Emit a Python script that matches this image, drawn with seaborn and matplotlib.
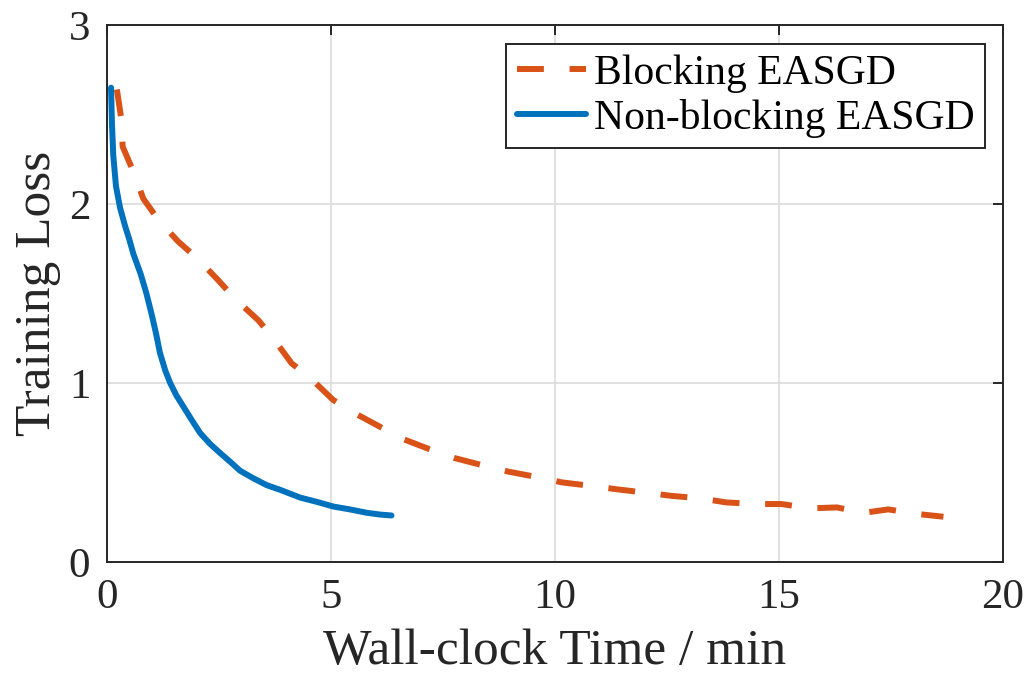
import numpy as np
import pandas as pd
import matplotlib
matplotlib.use("Agg")
import matplotlib.pyplot as plt
import seaborn as sns

## data
blocking_time = [0.22, 0.31, 0.35, 0.59, 0.81, 1.15, 1.59, 2.0, 2.48, 2.86, 3.38, 3.71,
                 4.12, 4.53, 5.05, 5.54, 6.09, 6.62, 7.20, 7.77, 8.39, 8.96, 9.63, 10.15,
                 10.81, 11.39, 12.0, 12.62, 13.24, 13.82, 14.48, 15.05, 15.71, 16.29,
                 16.9, 17.44, 18.1, 18.67]
blocking_loss = [2.64, 2.49, 2.32, 2.18, 2.03, 1.91, 1.79, 1.70, 1.575, 1.47, 1.35, 1.25,
                 1.11, 1.03, 0.905, 0.83, 0.756, 0.686, 0.63, 0.58, 0.54, 0.505, 0.473, 0.445,
                 0.425, 0.406, 0.388, 0.369, 0.356, 0.333, 0.324, 0.324, 0.30, 0.305,
                 0.275, 0.294, 0.268, 0.253]

nonblocking_time = [0.09, 0.11, 0.14, 0.2, 0.29, 0.4, 0.5, 0.59, 0.75, 0.88, 1.0, 1.1,
                    1.18, 1.3, 1.41, 1.55, 1.70, 1.9, 2.08, 2.3, 2.52, 2.75, 2.97, 3.25,
                    3.56, 3.9, 4.31, 4.7, 5.05, 5.4, 5.80, 6.1, 6.35]
nonblocking_loss = [2.65, 2.45, 2.27, 2.1, 1.98, 1.88, 1.80, 1.72, 1.61, 1.50, 1.38, 1.27,
                    1.17, 1.07, 1.0, 0.93, 0.87, 0.79, 0.72, 0.66, 0.61, 0.56, 0.51, 0.47,
                    0.43, 0.40, 0.36, 0.335, 0.31, 0.295, 0.275, 0.265, 0.26]

series_names = ["Blocking EASGD", "Non-blocking EASGD"]
series_colors = ["#D95319", "#0072BD"]
x_ticks = [0, 5, 10, 15, 20]
y_ticks = [0, 1, 2, 3]

df = pd.concat([
    pd.DataFrame({"time": blocking_time, "loss": blocking_loss, "method": series_names[0]}),
    pd.DataFrame({"time": nonblocking_time, "loss": nonblocking_loss, "method": series_names[1]}),
], ignore_index=True)

# style
sns.set_style("white")
plt.rcParams["font.family"] = ["Liberation Serif", "DejaVu Serif"]
plt.rcParams["text.color"] = "#262626"
plt.rcParams["axes.labelcolor"] = "#262626"

fig = plt.figure(figsize=(10.3, 6.8), dpi=100)
ax = fig.add_axes([0.1039, 0.1735, 0.8699, 0.7897])

sns.lineplot(data=df, x="time", y="loss", hue="method", style="method",
             hue_order=series_names, style_order=series_names,
             palette=series_colors, dashes=[(4.5, 4.3), ""],
             sort=False, estimator=None, linewidth=4.3, ax=ax)

ax.set_xlim(0, 20)
ax.set_ylim(0, 3)
ax.set_xticks(x_ticks)
ax.set_yticks(y_ticks)
ax.grid(True, color="#dcdcdc", linewidth=1.2)
ax.set_axisbelow(True)

for s in ax.spines.values():
    s.set_color("#262626")
    s.set_linewidth(1.4)
ax.tick_params(direction="in", length=7, width=1.4, color="#262626",
               labelcolor="#262626", labelsize=31, top=True, right=True)
ax.tick_params(axis="x", pad=12)
ax.tick_params(axis="y", pad=12)

ax.set_xlabel("Wall-clock Time / min", fontsize=37, labelpad=8)
ax.set_ylabel("Training Loss", fontsize=37, labelpad=6)

leg = ax.legend(loc="upper right", bbox_to_anchor=(0.98, 0.965), fontsize=30,
                frameon=True, fancybox=False, handlelength=1.66, handletextpad=0.2,
                borderpad=0.25, labelspacing=0.15, borderaxespad=0)
leg.get_frame().set_edgecolor("#262626")
leg.get_frame().set_linewidth(1.4)
leg.get_frame().set_alpha(1)
for t in leg.get_texts():
    t.set_color("black")

fig.savefig("out.png", dpi=100)
